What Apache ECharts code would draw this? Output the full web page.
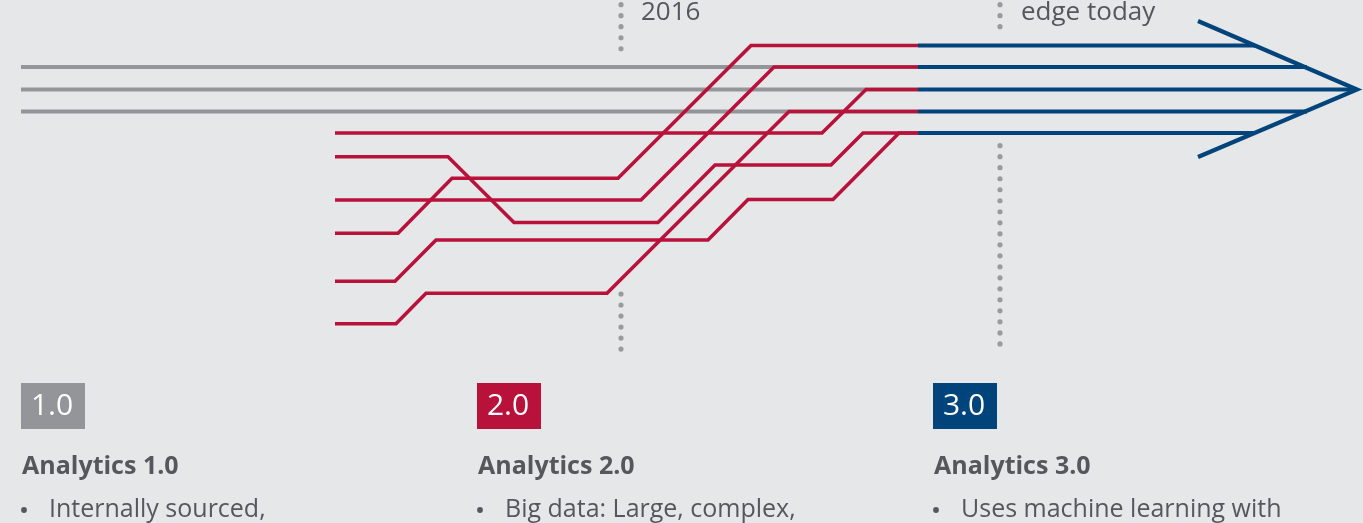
<!DOCTYPE html>
<html>
<head>
<meta charset="utf-8">
<script src="https://cdn.jsdelivr.net/npm/echarts@6/dist/echarts.min.js"></script>
<style>
  html, body { margin: 0; padding: 0; background: #e6e7e9; }
  #main { width: 1363px; height: 523px; }
</style>
</head>
<body>
<div id="main"></div>
<script>
// grey lanes of analytics 1.0 (y), running from greyStart to greyEnd
var greyLanes = [67, 89.5, 111.5];
var greyStart = 21;
var greyEnd = 918;

// red paths of analytics 2.0, vertices [x, y]
var redPaths = [
  [[335, 133], [822, 133], [866, 89.5], [918, 89.5]],
  [[335, 156.7], [448, 156.7], [514, 222.5], [658, 222.5], [715, 165], [831, 165], [863, 133], [918, 133]],
  [[335, 200], [641, 200], [774, 67], [918, 67]],
  [[335, 233.3], [398, 233.3], [452, 178.3], [618, 178.3], [751, 45.5], [918, 45.5]],
  [[335, 281.3], [395, 281.3], [436, 240], [708, 240], [748, 199.5], [833, 199.5], [899, 133], [918, 133]],
  [[335, 323.7], [396, 323.7], [426, 293.3], [607, 293.3], [789, 111.5], [918, 111.5]]
];

// blue lanes of analytics 3.0
var blueLanes = [45.5, 67, 89.5, 111.5, 133];
var blueStart = 918;
var blueEnds = [1255, 1307, 1357, 1307, 1255];
var arrowHead = [[1198, 21], [1357, 89.5], [1198, 157]];

// dotted markers [x, yFrom, yTo]
var dotLines = [[621, 4.7, 58], [621, 294, 353], [1000, 4.7, 37], [1000, 145.7, 353]];
var markerLabels = ['2016', 'edge today'];

var stageNames = ['1.0', '2.0', '3.0'];
var stageTitles = ['Analytics 1.0', 'Analytics 2.0', 'Analytics 3.0'];
var stageBullets = ['Internally sourced,', 'Big data: Large, complex,', 'Uses machine learning with'];
var stageColors = ['#939598', '#b8123a', '#00447c'];
var stageX = [21, 477, 933];

var RED = '#b8123a';
var BLUE = '#00447c';
var GREY = '#949598';
var TEXT = '#56575b';

var series = [];

greyLanes.forEach(function (y) {
  series.push({
    type: 'line', data: [[greyStart, y], [greyEnd, y]], symbol: 'none', silent: true,
    lineStyle: { color: GREY, width: 4, cap: 'butt' }, z: 2
  });
});

redPaths.forEach(function (p) {
  series.push({
    type: 'line', data: p, symbol: 'none', silent: true,
    lineStyle: { color: RED, width: 3.6, cap: 'butt', join: 'miter' }, z: 3
  });
});

blueLanes.forEach(function (y, i) {
  series.push({
    type: 'line', data: [[blueStart, y], [blueEnds[i], y]], symbol: 'none', silent: true,
    lineStyle: { color: BLUE, width: 3.8, cap: 'butt' }, z: 4
  });
});

series.push({
  type: 'line', data: arrowHead, symbol: 'none', silent: true,
  lineStyle: { color: BLUE, width: 4.2, cap: 'butt', join: 'miter' }, z: 4
});

dotLines.forEach(function (d) {
  series.push({
    type: 'line', data: [[d[0], d[1]], [d[0], d[2]]], symbol: 'none', silent: true,
    lineStyle: { color: '#9b9b9e', width: 5.2, cap: 'round', type: [0.01, 11] }, z: 1
  });
});

var graphics = [
  { type: 'text', left: 641, top: 0, style: { text: markerLabels[0], font: '26px "Open Sans"', fill: TEXT } },
  { type: 'text', left: 1021, top: 0, style: { text: markerLabels[1], font: '26px "Open Sans"', fill: TEXT } }
];

stageNames.forEach(function (n, i) {
  var x = stageX[i];
  graphics.push({
    type: 'group', left: x, top: 383,
    children: [
      { type: 'rect', shape: { x: 0, y: 0, width: 64, height: 46 }, style: { fill: stageColors[i] } },
      { type: 'text', x: 31, y: 23, style: { text: n, font: '30px "Open Sans"', fill: '#ffffff', align: 'center', verticalAlign: 'middle' } }
    ]
  });
  graphics.push({
    type: 'text', left: x + 1, top: 454,
    style: { text: stageTitles[i], font: 'bold 25px "Open Sans"', fill: TEXT }
  });
  // bullet dot
  graphics.push({
    type: 'circle', shape: { cx: x + 3, cy: 510, r: 2.9 }, style: { fill: TEXT }
  });
  graphics.push({
    type: 'text', left: x + 28, top: 497,
    style: { text: stageBullets[i], font: '25px "Open Sans"', fill: TEXT }
  });
});

var option = {
  backgroundColor: '#e6e7e9',
  animation: false,
  grid: { left: 0, right: 0, top: 0, bottom: 0 },
  xAxis: { type: 'value', min: 0, max: 1363, show: false },
  yAxis: { type: 'value', min: 0, max: 523, inverse: true, show: false },
  series: series,
  graphic: graphics
};

var chartDom = document.getElementById('main');
var myChart = echarts.init(chartDom);
myChart.setOption(option);
window.onresize = function () {
  myChart.resize();
};
</script>
</body>
</html>
